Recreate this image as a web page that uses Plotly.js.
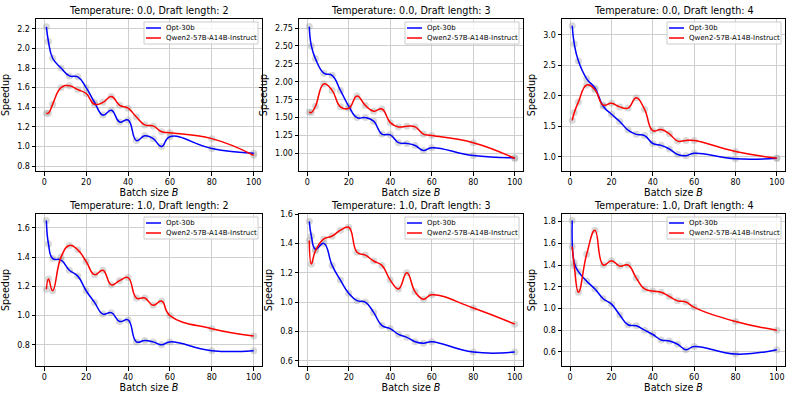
<!DOCTYPE html>
<html>
<head>
<meta charset="utf-8">
<script src="https://cdn.plot.ly/plotly-3.0.1.min.js"></script>
<style>html,body{margin:0;padding:0;background:#fff;}#chart{width:793px;height:397px;}</style>
</head>
<body>
<div id="chart"></div>
<script>
// Batch sizes (x values)
const batchSizes = [1, 2, 4, 8, 12, 16, 20, 24, 28, 32, 36, 40, 44, 48, 52, 56, 60, 80, 100];

// Series names
const seriesNames = ["Opt-30b", "Qwen2-57B-A14B-Instruct"];

// Panel titles
const panelTitles = [
  "Temperature: 0.0, Draft length: 2",
  "Temperature: 0.0, Draft length: 3",
  "Temperature: 0.0, Draft length: 4",
  "Temperature: 1.0, Draft length: 2",
  "Temperature: 1.0, Draft length: 3",
  "Temperature: 1.0, Draft length: 4"
];

// Speedup values per panel
const optT0L2  = [2.22, 2.07, 1.90, 1.80, 1.72, 1.71, 1.60, 1.45, 1.32, 1.37, 1.25, 1.27, 1.06, 1.11, 1.08, 1.00, 1.10, 0.98, 0.93];
const qwenT0L2 = [1.34, 1.34, 1.43, 1.60, 1.62, 1.58, 1.54, 1.43, 1.45, 1.51, 1.42, 1.39, 1.30, 1.22, 1.21, 1.15, 1.14, 1.08, 0.91];

const optT0L3  = [2.77, 2.50, 2.32, 2.12, 2.09, 1.88, 1.66, 1.50, 1.50, 1.45, 1.27, 1.26, 1.15, 1.14, 1.11, 1.04, 1.08, 0.97, 0.94];
const qwenT0L3 = [1.58, 1.57, 1.66, 1.97, 1.88, 1.65, 1.63, 1.80, 1.67, 1.59, 1.62, 1.43, 1.37, 1.38, 1.37, 1.27, 1.25, 1.15, 0.93];

const optT0L4  = [3.15, 2.85, 2.57, 2.28, 2.13, 1.83, 1.70, 1.58, 1.44, 1.37, 1.35, 1.22, 1.19, 1.13, 1.04, 1.02, 1.06, 0.97, 0.98];
const qwenT0L4 = [1.60, 1.73, 1.90, 2.18, 2.10, 1.85, 1.88, 1.82, 1.80, 1.97, 1.78, 1.43, 1.45, 1.38, 1.26, 1.27, 1.27, 1.09, 0.98];

const optT1L2  = [1.65, 1.49, 1.39, 1.38, 1.31, 1.27, 1.17, 1.09, 1.01, 1.02, 0.96, 0.97, 0.82, 0.83, 0.82, 0.80, 0.82, 0.76, 0.76];
const qwenT1L2 = [1.18, 1.25, 1.17, 1.40, 1.48, 1.45, 1.37, 1.28, 1.31, 1.21, 1.24, 1.26, 1.12, 1.12, 1.07, 1.10, 1.00, 0.91, 0.86];

const optT1L3  = [1.55, 1.45, 1.36, 1.40, 1.25, 1.15, 1.06, 1.01, 1.00, 0.93, 0.84, 0.82, 0.78, 0.76, 0.73, 0.72, 0.73, 0.66, 0.66];
const qwenT1L3 = [1.42, 1.26, 1.35, 1.43, 1.45, 1.49, 1.51, 1.34, 1.32, 1.28, 1.25, 1.15, 1.09, 1.20, 1.07, 1.02, 1.05, 0.96, 0.85];

const optT1L4  = [1.81, 1.42, 1.34, 1.25, 1.18, 1.09, 1.04, 0.94, 0.85, 0.84, 0.80, 0.76, 0.71, 0.70, 0.67, 0.62, 0.65, 0.58, 0.62];
const qwenT1L4 = [1.57, 1.39, 1.15, 1.50, 1.72, 1.40, 1.44, 1.39, 1.40, 1.28, 1.18, 1.16, 1.15, 1.11, 1.07, 1.06, 1.01, 0.88, 0.80];

// Tick settings
const xTickVals = [0, 20, 40, 60, 80, 100];

const panels = [
  {opt: optT0L2, qwen: qwenT0L2, yr: [0.75, 2.30], dtick: 0.2, tick0: 0.8, fmt: ".1f"},
  {opt: optT0L3, qwen: qwenT0L3, yr: [0.755, 2.876], dtick: 0.25, tick0: 1.0, fmt: ".2f"},
  {opt: optT0L4, qwen: qwenT0L4, yr: [0.77, 3.26], dtick: 0.5, tick0: 1.0, fmt: ".1f"},
  {opt: optT1L2, qwen: qwenT1L2, yr: [0.655, 1.695], dtick: 0.2, tick0: 0.8, fmt: ".1f"},
  {opt: optT1L3, qwen: qwenT1L3, yr: [0.565, 1.600], dtick: 0.2, tick0: 0.6, fmt: ".1f"},
  {opt: optT1L4, qwen: qwenT1L4, yr: [0.47, 1.87], dtick: 0.2, tick0: 0.6, fmt: ".1f"}
];

const W = 793, H = 397;
const colsPx = [[36, 262], [299, 523], [562, 785]];
const rowsPx = [[19, 171], [214, 366]];

const colors = ["#0000ff", "#ff0000"];
const font = "DejaVu Sans, sans-serif";

const traces = [];
const layout = {
  width: W, height: H,
  margin: {l: 0, r: 0, t: 0, b: 0},
  paper_bgcolor: "#ffffff",
  plot_bgcolor: "#ffffff",
  showlegend: false,
  font: {family: font, color: "#000", size: 8},
  annotations: [],
  shapes: []
};

const px2x = v => v / W;
const px2y = v => 1 - v / H;

panels.forEach((p, i) => {
  const r = Math.floor(i / 3), c = i % 3;
  const sfx = i === 0 ? "" : String(i + 1);
  const xa = "x" + sfx, ya = "y" + sfx;
  const xd = [colsPx[c][0] / W, colsPx[c][1] / W];
  const yd = [1 - rowsPx[r][1] / H, 1 - rowsPx[r][0] / H];

  [p.opt, p.qwen].forEach((vals) => {
    traces.push({
      x: batchSizes, y: vals, xaxis: xa, yaxis: ya,
      mode: "markers", showlegend: false, hoverinfo: "skip",
      marker: {color: "rgba(160,160,160,0.4)", size: 7}
    });
  });
  [p.opt, p.qwen].forEach((vals, k) => {
    traces.push({
      x: batchSizes, y: vals, xaxis: xa, yaxis: ya,
      mode: "lines", name: seriesNames[k],
      line: {color: colors[k], width: 1.5, shape: "spline", smoothing: 1.3}
    });
  });

  const axCommon = {
    showline: true, linecolor: "#000", linewidth: 1, mirror: true,
    ticks: "outside", ticklen: 3.5, tickcolor: "#000", tickwidth: 1,
    showgrid: true, gridcolor: "#cfcfcf", gridwidth: 1,
    zeroline: false, tickfont: {family: font, size: 8, color: "#000"}
  };
  layout["xaxis" + sfx] = Object.assign({}, axCommon, {
    domain: xd, anchor: ya, range: [-3.95, 103.95],
    tickmode: "array", tickvals: xTickVals,
    title: {text: "Batch size <i>B</i>", font: {family: font, size: 9.6}, standoff: 3}
  });
  layout["yaxis" + sfx] = Object.assign({}, axCommon, {
    domain: yd, anchor: xa, range: p.yr,
    tick0: p.tick0, dtick: p.dtick, tickformat: p.fmt,
    title: {text: "Speedup", font: {family: font, size: 9.6}, standoff: 5}
  });

  // Title
  layout.annotations.push({
    text: panelTitles[i], xref: "paper", yref: "paper",
    x: (xd[0] + xd[1]) / 2, y: yd[1], xanchor: "center", yanchor: "bottom",
    yshift: 1, showarrow: false, font: {family: font, size: 9.6, color: "#000"}
  });

  // Legend box (matplotlib style)
  const right = colsPx[c][1] - 4, top = rowsPx[r][0] + 3;
  const left = right - 114, bottom = top + 22;
  layout.shapes.push({
    type: "rect", xref: "paper", yref: "paper",
    x0: px2x(left), x1: px2x(right), y0: px2y(bottom), y1: px2y(top),
    line: {color: "#cccccc", width: 1}, fillcolor: "rgba(255,255,255,0.8)", layer: "above"
  });
  seriesNames.forEach((nm, k) => {
    const yc = top + 6 + k * 10;
    layout.shapes.push({
      type: "line", xref: "paper", yref: "paper",
      x0: px2x(left + 2), x1: px2x(left + 17), y0: px2y(yc), y1: px2y(yc),
      line: {color: colors[k], width: 1.5}, layer: "above"
    });
    layout.annotations.push({
      text: nm, xref: "paper", yref: "paper",
      x: px2x(left + 20), y: px2y(yc), xanchor: "left", yanchor: "middle",
      showarrow: false, font: {family: font, size: 7, color: "#000"}
    });
  });
});

Plotly.newPlot("chart", traces, layout, {staticPlot: true, displayModeBar: false});
</script>
</body>
</html>
